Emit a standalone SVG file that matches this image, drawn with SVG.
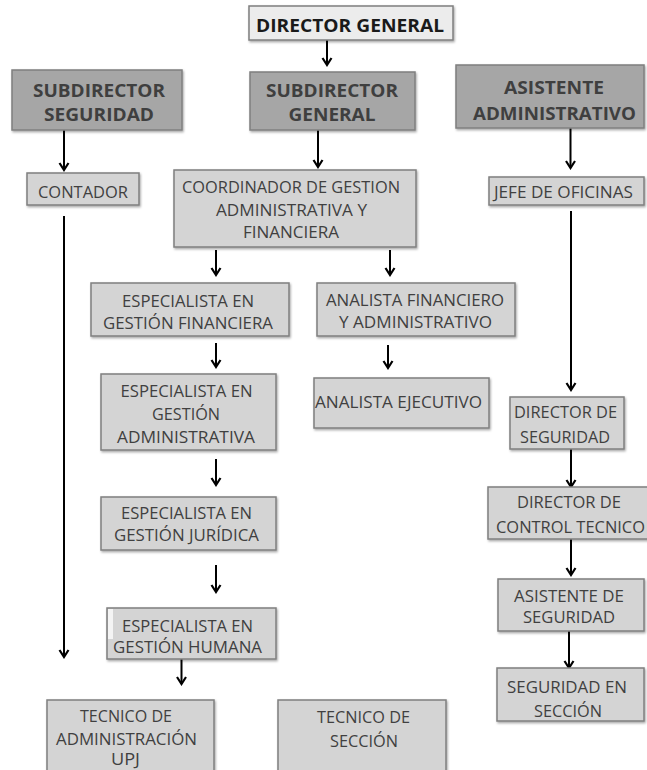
<svg xmlns="http://www.w3.org/2000/svg" width="647" height="770" viewBox="0 0 647 770">
<defs>
<filter id="sh" x="-10%" y="-10%" width="125%" height="130%">
<feDropShadow dx="1" dy="1.5" stdDeviation="1.2" flood-color="#000" flood-opacity="0.35"/>
</filter>
<marker id="ah" viewBox="0 0 12 12" markerWidth="12" markerHeight="12" refX="10" refY="6" orient="auto" markerUnits="userSpaceOnUse">
<path d="M3,1.5 L10,6 L3,10.5" fill="none" stroke="#000" stroke-width="2.2" stroke-linejoin="miter"/>
</marker>
</defs>
<style>
.b{fill:#d4d4d4;stroke:#7f7f7f;stroke-width:1.5;filter:url(#sh)}
.d{fill:#a6a6a6;stroke:#7f7f7f;stroke-width:1.5;filter:url(#sh)}
.l{fill:#ececec;stroke:#7f7f7f;stroke-width:1.5;filter:url(#sh)}
text{font-family:"Open Sans","Liberation Sans",sans-serif;font-size:15.5px;fill:#404040;text-anchor:middle}
.t{font-weight:bold;font-size:18.5px;fill:#3f3f3f}
.k{font-weight:bold;font-size:18.5px;fill:#1a1a1a}
.c{fill:none;stroke:#000;stroke-width:2}
</style>
<rect width="647" height="770" fill="#fff"/>

<g id="connectors">
<line class="c" x1="327" y1="40" x2="327" y2="65" marker-end="url(#ah)"/>
<line class="c" x1="64" y1="130" x2="64" y2="170" marker-end="url(#ah)"/>
<line class="c" x1="318" y1="130" x2="318" y2="167" marker-end="url(#ah)"/>
<line class="c" x1="570.5" y1="128" x2="570.5" y2="168" marker-end="url(#ah)"/>
<line class="c" x1="216" y1="250" x2="216" y2="275" marker-end="url(#ah)"/>
<line class="c" x1="390" y1="250" x2="390" y2="275" marker-end="url(#ah)"/>
<line class="c" x1="216" y1="343" x2="216" y2="367" marker-end="url(#ah)"/>
<line class="c" x1="388" y1="345" x2="388" y2="368" marker-end="url(#ah)"/>
<line class="c" x1="216" y1="459" x2="216" y2="485" marker-end="url(#ah)"/>
<line class="c" x1="216" y1="565" x2="216" y2="592" marker-end="url(#ah)"/>
<line class="c" x1="181.5" y1="659" x2="181.5" y2="684" marker-end="url(#ah)"/>
<line class="c" x1="64" y1="216" x2="64" y2="657" marker-end="url(#ah)"/>
<line class="c" x1="571" y1="211" x2="571" y2="390" marker-end="url(#ah)"/>
<line class="c" x1="571" y1="449" x2="571" y2="487" marker-end="url(#ah)"/>
<line class="c" x1="571" y1="539" x2="571" y2="575" marker-end="url(#ah)"/>
<line class="c" x1="569" y1="631" x2="569" y2="668" marker-end="url(#ah)"/>
</g>

<g id="director-general">
<rect class="l" x="249" y="6" width="204" height="34"/>
<text class="k" x="350" y="32" textLength="188" lengthAdjust="spacingAndGlyphs">DIRECTOR GENERAL</text>
</g>

<g id="subdirector-seguridad">
<rect class="d" x="12" y="70" width="170" height="60"/>
<text class="t" x="99" y="97" textLength="132" lengthAdjust="spacingAndGlyphs">SUBDIRECTOR</text>
<text class="t" x="99" y="121" textLength="110" lengthAdjust="spacingAndGlyphs">SEGURIDAD</text>
</g>

<g id="subdirector-general">
<rect class="d" x="250" y="72" width="165" height="58"/>
<text class="t" x="332" y="97" textLength="132" lengthAdjust="spacingAndGlyphs">SUBDIRECTOR</text>
<text class="t" x="332" y="121" textLength="87" lengthAdjust="spacingAndGlyphs">GENERAL</text>
</g>

<g id="asistente-administrativo">
<rect class="d" x="456" y="65" width="188" height="63"/>
<text class="t" x="554" y="94" textLength="100" lengthAdjust="spacingAndGlyphs">ASISTENTE</text>
<text class="t" x="554.5" y="120" textLength="163" lengthAdjust="spacingAndGlyphs">ADMINISTRATIVO</text>
</g>

<g id="contador">
<rect class="b" x="27" y="173" width="112" height="32"/>
<text x="83" y="198" textLength="90" lengthAdjust="spacingAndGlyphs">CONTADOR</text>
</g>

<g id="coordinador">
<rect class="b" x="174" y="170" width="242" height="77"/>
<text x="291" y="193" textLength="218" lengthAdjust="spacingAndGlyphs">COORDINADOR DE GESTION</text>
<text x="291.5" y="216" textLength="151" lengthAdjust="spacingAndGlyphs">ADMINISTRATIVA Y</text>
<text x="291" y="238" textLength="96" lengthAdjust="spacingAndGlyphs">FINANCIERA</text>
</g>

<g id="jefe-oficinas">
<rect class="b" x="489" y="177" width="155" height="28"/>
<text x="563.5" y="198" textLength="139" lengthAdjust="spacingAndGlyphs">JEFE DE OFICINAS</text>
</g>

<g id="especialista-financiera">
<rect class="b" x="91" y="283" width="198" height="53"/>
<text x="188" y="307" textLength="132" lengthAdjust="spacingAndGlyphs">ESPECIALISTA EN</text>
<text x="188" y="329" textLength="170" lengthAdjust="spacingAndGlyphs">GESTIÓN FINANCIERA</text>
</g>

<g id="analista-financiero">
<rect class="b" x="317" y="283" width="198" height="53"/>
<text x="415" y="306" textLength="178" lengthAdjust="spacingAndGlyphs">ANALISTA FINANCIERO</text>
<text x="415.5" y="328" textLength="153" lengthAdjust="spacingAndGlyphs">Y ADMINISTRATIVO</text>
</g>

<g id="especialista-administrativa">
<rect class="b" x="101" y="374" width="175" height="76"/>
<text x="186.5" y="397" textLength="132" lengthAdjust="spacingAndGlyphs">ESPECIALISTA EN</text>
<text x="186" y="420" textLength="68" lengthAdjust="spacingAndGlyphs">GESTIÓN</text>
<text x="186" y="443" textLength="138" lengthAdjust="spacingAndGlyphs">ADMINISTRATIVA</text>
</g>

<g id="analista-ejecutivo">
<rect class="b" x="314" y="378" width="175" height="50"/>
<text x="398.5" y="408" textLength="167" lengthAdjust="spacingAndGlyphs">ANALISTA EJECUTIVO</text>
</g>

<g id="especialista-juridica">
<rect class="b" x="101" y="497" width="175" height="53"/>
<text x="186.5" y="519" textLength="131" lengthAdjust="spacingAndGlyphs">ESPECIALISTA EN</text>
<text x="186.5" y="541" textLength="145" lengthAdjust="spacingAndGlyphs">GESTIÓN JURÍDICA</text>
</g>

<g id="especialista-humana">
<rect class="b" x="107" y="608" width="169" height="51"/>
<rect x="108" y="609" width="5" height="30" fill="#f4f4f4"/>
<text x="187.5" y="632" textLength="131" lengthAdjust="spacingAndGlyphs">ESPECIALISTA EN</text>
<text x="187.5" y="653" textLength="149" lengthAdjust="spacingAndGlyphs">GESTIÓN HUMANA</text>
</g>

<g id="director-seguridad">
<rect class="b" x="510" y="397" width="114" height="52"/>
<text x="565.5" y="418" textLength="103" lengthAdjust="spacingAndGlyphs">DIRECTOR DE</text>
<text x="565" y="443" textLength="90" lengthAdjust="spacingAndGlyphs">SEGURIDAD</text>
</g>

<g id="director-control-tecnico">
<rect class="b" x="488" y="487" width="160" height="52"/>
<text x="569" y="508" textLength="104" lengthAdjust="spacingAndGlyphs">DIRECTOR DE</text>
<text x="570.5" y="533" textLength="149" lengthAdjust="spacingAndGlyphs">CONTROL TECNICO</text>
</g>

<g id="asistente-seguridad">
<rect class="b" x="498" y="579" width="146" height="52"/>
<text x="569" y="602" textLength="110" lengthAdjust="spacingAndGlyphs">ASISTENTE DE</text>
<text x="569" y="623" textLength="92" lengthAdjust="spacingAndGlyphs">SEGURIDAD</text>
</g>

<g id="seguridad-seccion">
<rect class="b" x="497" y="668" width="147" height="53"/>
<text x="567" y="693" textLength="120" lengthAdjust="spacingAndGlyphs">SEGURIDAD EN</text>
<text x="568" y="717" textLength="68" lengthAdjust="spacingAndGlyphs">SECCIÓN</text>
</g>

<g id="tecnico-administracion">
<rect class="b" x="47" y="700" width="167" height="80"/>
<text x="126" y="722" textLength="92" lengthAdjust="spacingAndGlyphs">TECNICO DE</text>
<text x="126.5" y="745" textLength="141" lengthAdjust="spacingAndGlyphs">ADMINISTRACIÓN</text>
<text x="125.5" y="765" textLength="29" lengthAdjust="spacingAndGlyphs">UPJ</text>
</g>

<g id="tecnico-seccion">
<rect class="b" x="278" y="700" width="168" height="80"/>
<text x="363.5" y="723" textLength="93" lengthAdjust="spacingAndGlyphs">TECNICO DE</text>
<text x="364" y="747" textLength="68" lengthAdjust="spacingAndGlyphs">SECCIÓN</text>
</g>
</svg>
